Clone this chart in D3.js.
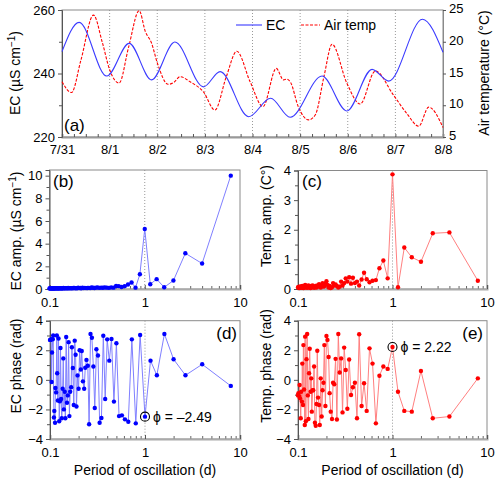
<!DOCTYPE html>
<html>
<head>
<meta charset="utf-8">
<script src="https://cdn.jsdelivr.net/npm/d3@7"></script>
<style>
  body { margin: 0; background: #fff; }
  svg { font-family: "Liberation Sans", Arial, sans-serif; }
</style>
</head>
<body>
<div id="container"></div>
<script>
// ---- data ----
const dayLabels = ["7/31", "8/1", "8/2", "8/3", "8/4", "8/5", "8/6", "8/7", "8/8"];

// EC time series (days since 7/31 00:00), read at turning points
const ecDay = [0, 0.36, 0.94, 1.41, 1.88, 2.37, 2.97, 3.32, 3.92, 4.38, 4.79, 5.46, 5.98, 6.51, 6.86, 7.57, 8.0];
const ecVal = [246.9, 256.1, 239.2, 249.5, 238.0, 249.9, 235.8, 240.6, 226.4, 232.2, 226.2, 239.2, 228.2, 241.3, 237.6, 257.1, 246.7];

// Air temperature time series
const tempDay = [0, 0.2, 0.4, 0.66, 0.85, 1.0, 1.2, 1.4, 1.62, 1.75, 1.88, 2.0, 2.23, 2.35, 2.48, 2.69, 2.97, 3.21, 3.45, 3.67, 3.95,
  4.22, 4.5, 4.65, 4.72, 4.8, 4.96, 5.18, 5.32, 5.5, 5.67, 5.98, 6.26, 6.58, 6.96, 7.24, 7.49, 7.7, 8.0];
const tempVal = [13.7, 12.0, 17.2, 24.2, 19.8, 15.6, 13.5, 19.2, 24.9, 21.6, 19.8, 16.7, 13.3, 13.6, 14.5, 13.7, 12.1, 9.25, 14.5, 18.5, 13.7,
  9.8, 15.8, 14.0, 14.1, 13.6, 9.8, 7.7, 8.5, 14.5, 19.6, 13.5, 10.2, 15.4, 11.6, 8.7, 6.7, 9.7, 6.5];

// harmonic periods (d)
const periods = [8, 4, 2.667, 2, 1.6, 1.333, 1.143, 1, 0.889, 0.8, 0.727, 0.667, 0.615, 0.571, 0.533, 0.5,
  0.471, 0.444, 0.421, 0.4, 0.381, 0.364, 0.348, 0.333, 0.32, 0.308, 0.296, 0.286, 0.276, 0.267, 0.258, 0.25,
  0.242, 0.235, 0.229, 0.222, 0.216, 0.211, 0.205, 0.2, 0.195, 0.19, 0.186, 0.182, 0.178, 0.174, 0.17, 0.167,
  0.163, 0.16, 0.157, 0.154, 0.151, 0.148, 0.145, 0.143, 0.14, 0.138, 0.136, 0.133, 0.131, 0.129, 0.127, 0.125,
  0.123, 0.121, 0.119, 0.118, 0.116, 0.114, 0.113, 0.111, 0.11, 0.108, 0.107, 0.105, 0.104, 0.103, 0.101, 0.1];

const ecAmp = [10.0, 2.25, 3.15, 0.75, 0.15, 0.87, 0.42, 5.3,
  1.3, 0.12, 0.58, 0.4, 0.25, 0.18, 0.25, 0.26,
  0.12, 0.14, 0.1, 0.12, 0.14, 0.11, 0.12, 0.1,
  0.14, 0.12, 0.09, 0.11, 0.13, 0.08, 0.1, 0.09,
  0.08, 0.1, 0.08, 0.12, 0.07, 0.09, 0.08, 0.11,
  0.07, 0.08, 0.06, 0.1, 0.09, 0.07, 0.08, 0.06,
  0.08, 0.07, 0.09, 0.06, 0.07, 0.08, 0.06, 0.07,
  0.09, 0.06, 0.07, 0.05, 0.08, 0.06, 0.07, 0.06,
  0.05, 0.07, 0.06, 0.08, 0.05, 0.06, 0.07, 0.05,
  0.06, 0.05, 0.07, 0.06, 0.05, 0.07, 0.06, 0.05];

const tempAmp = [0.28, 1.91, 1.88, 0.92, 1.07, 1.40, 0.06, 3.87,
  0.36, 0.96, 0.70, 0.30, 0.28, 0.23, 0.33, 0.55,
  0.32, 0.12, 0.25, 0.2, 0.38, 0.18, 0.4, 0.25,
  0.36, 0.2, 0.12, 0.25, 0.08, 0.05, 0.1, 0.15,
  0.12, 0.2, 0.06, 0.03, 0.1, 0.05, 0.14, 0.26,
  0.18, 0.1, 0.08, 0.2, 0.12, 0.05, 0.1, 0.16,
  0.08, 0.12, 0.05, 0.1, 0.07, 0.04, 0.08, 0.12,
  0.06, 0.1, 0.03, 0.08, 0.05, 0.12, 0.07, 0.04,
  0.1, 0.06, 0.14, 0.05, 0.08, 0.03, 0.06, 0.1,
  0.05, 0.08, 0.04, 0.09, 0.06, 0.03, 0.07, 0.05];

const ecPhase = [-0.41, 1.05, 0.31, 1.39, 3.1, 0.31, 1.30, -2.49,
  3.03, -2.94, 2.74, -2.83, -2.67, -2.4, -2.45, 2.47,
  -1.47, 2.76, 1.3, 2.74, -1.3, 2.98, -2.58, -2.9,
  1.65, 2.07, -1.9, 0.9, 2.85, 3.1, -3.0, 0.95,
  1.35, 0.82, -0.6, -0.1, 1.95, 0.7, 2.0, -0.6,
  0.3, -1.8, 1.7, 2.65, -1.7, 0.8, 2.2, -0.5,
  -0.8, -2.45, 2.55, -1.05, -1.55, 2.9, -2.6, -0.8,
  -2.0, 1.45, -0.6, -2.6, -1.3, 2.15, -1.45, -2.8,
  2.8, -1.4, 0.45, 3.0, -0.85, -0.55, -2.9, -2.1,
  -2.55, 3.0, 2.75, 1.85, -0.15, 2.75, 2.7, 2.7];

const tempPhase = [0.1, -2.48, -2.6, 0.6, -2.15, -2.1, -0.8, 2.22,
  0.74, 0.9, 0.28, -2.94, 1.1, 2.13, -2.1, -0.23,
  -1.77, 3.08, -2.6, -0.2, -0.5, -1.02, 1.38, -1.95,
  0.67, 2.18, -2.2, 1.45, 0.5, 3.1, -2.68, 1.42,
  -0.3, -0.2, -2.65, -2.15, -0.9, 1.55, 2.7, 2.97,
  -1.77, 2.35, -0.2, -0.7, -2.48, 0.1, -3.05, -1.7,
  -1.2, 1.97, -1.63, -3.1, -2.9, 0.9, -0.7, -0.7,
  -2.15, 0.1, -0.8, 2.1, 0.45, -2.65, -1.05, 3.1,
  1.4, -2.8, 2.92, -3.05, -0.65, 2.35, -1.7, 1.1,
  -1.47, -0.8, -2.6, -1.25, -0.35, -1.1, -0.9, -1.05];

// ---- drawing ----
const svg = d3.select("#container")
  .append("svg")
  .attr("width", 500)
  .attr("height", 480);

const frameColor = "#8a8a8a";
const blue = "#0000ff", blueLine = "#7f7fff";
const red = "#ff0000", redLine = "#ff8080";

function styleAxis(g, color) {
  g.select(".domain").attr("stroke", color || "#555");
  g.selectAll(".tick line").attr("stroke", "#555");
  g.selectAll(".tick text").attr("fill", "#000").style("font-size", "13px")
    .style("font-family", "'Liberation Sans', Arial, sans-serif");
}

function yTitle(x, y, parts) {
  const t = svg.append("text")
    .attr("transform", `translate(${x},${y}) rotate(-90)`)
    .attr("text-anchor", "middle")
    .style("font-size", "14px");
  parts.forEach(p => {
    const s = t.append("tspan").text(p.text);
    if (p.sup) s.attr("dy", -5).style("font-size", "10px");
    if (p.after) s.attr("dy", 5);
  });
}

// Panel (a)
const xA = d3.scaleLinear().domain([0, 8]).range([62, 443]);
const yEC = d3.scaleLinear().domain([220, 260]).range([137, 10]);
const yT = d3.scaleLinear().domain([5, 25]).range([137, 10]);

svg.append("g").selectAll("line")
  .data(d3.range(1, 8))
  .enter().append("line")
  .attr("x1", d => xA(d)).attr("x2", d => xA(d))
  .attr("y1", 10).attr("y2", 137)
  .attr("stroke", "#999").attr("stroke-dasharray", "1,2");

svg.append("rect")
  .attr("x", 62).attr("y", 10).attr("width", 381).attr("height", 127)
  .attr("fill", "none").attr("stroke", frameColor);

const gxA = svg.append("g")
  .attr("transform", "translate(0,137)")
  .call(d3.axisBottom(xA).tickValues(d3.range(0, 8.01, 0.25)).tickSize(-3).tickPadding(8)
    .tickFormat(d => Number.isInteger(d) ? dayLabels[d] : ""));
styleAxis(gxA, "#999");
gxA.select(".domain").attr("stroke-width", 2);

const gyA = svg.append("g")
  .attr("transform", "translate(62,0)")
  .call(d3.axisLeft(yEC).tickValues([220, 240, 260]).tickSize(4).tickPadding(3));
styleAxis(gyA);
svg.append("g").attr("transform", "translate(62,0)")
  .call(d3.axisLeft(yEC).tickValues([230, 250]).tickSize(3).tickFormat(""))
  .call(g => g.select(".domain").remove())
  .selectAll("line").attr("stroke", "#555");

const gyT = svg.append("g")
  .attr("transform", "translate(443,0)")
  .call(d3.axisRight(yT).tickValues([5, 10, 15, 20, 25]).tickSize(3).tickPadding(3));
styleAxis(gyT, frameColor);
gyT.selectAll(".tick text").attr("dy", "0.2em");

svg.append("path")
  .datum(tempDay.map((d, i) => [d, tempVal[i]]))
  .attr("fill", "none").attr("stroke", red).attr("stroke-width", 1.1)
  .attr("stroke-dasharray", "3,1.5")
  .attr("d", d3.line().x(d => xA(d[0])).y(d => yT(d[1])).curve(d3.curveMonotoneX));

svg.append("path")
  .datum(ecDay.map((d, i) => [d, ecVal[i]]))
  .attr("fill", "none").attr("stroke", "#3a3aff").attr("stroke-width", 1.1)
  .attr("d", d3.line().x(d => xA(d[0])).y(d => yEC(d[1])).curve(d3.curveMonotoneX));

// legend
svg.append("line").attr("x1", 236).attr("x2", 262).attr("y1", 25).attr("y2", 25)
  .attr("stroke", "#3a3aff").attr("stroke-width", 1.1);
svg.append("text").attr("x", 266).attr("y", 30).style("font-size", "14px").text("EC");
svg.append("line").attr("x1", 301).attr("x2", 320).attr("y1", 25).attr("y2", 25)
  .attr("stroke", red).attr("stroke-width", 1.1).attr("stroke-dasharray", "3,1.5");
svg.append("text").attr("x", 324).attr("y", 30).style("font-size", "14px").text("Air temp");

svg.append("text").attr("x", 64).attr("y", 131).style("font-size", "17px").text("(a)");
yTitle(20, 73, [{ text: "EC (µS cm" }, { text: "−1", sup: true }, { text: ")", after: true }]);
svg.append("text")
  .attr("transform", "translate(489,73) rotate(-90)")
  .attr("text-anchor", "middle").style("font-size", "14px")
  .text("Air temperature (°C)");

// Log panels
function logPanel(o) {
  const x = d3.scaleLog().domain([0.1, 10]).range([o.left, o.right]);
  const y = d3.scaleLinear().domain(o.yDomain).range([o.bottom, o.top]);

  svg.append("line")
    .attr("x1", x(1)).attr("x2", x(1)).attr("y1", o.top).attr("y2", o.bottom)
    .attr("stroke", "#999").attr("stroke-dasharray", "1,2");

  svg.append("rect")
    .attr("x", o.left).attr("y", o.top)
    .attr("width", o.right - o.left).attr("height", o.bottom - o.top)
    .attr("fill", "none").attr("stroke", frameColor);

  const minorX = x.ticks().filter(t => ![0.1, 1, 10].includes(+t.toPrecision(3)));
  svg.append("g").attr("transform", `translate(0,${o.bottom})`)
    .call(d3.axisBottom(x).tickValues(minorX).tickSize(-3).tickFormat(""))
    .call(g => g.select(".domain").remove())
    .selectAll("line").attr("stroke", "#666");
  const gx = svg.append("g").attr("transform", `translate(0,${o.bottom})`)
    .call(d3.axisBottom(x).tickValues([0.1, 1, 10]).tickSize(-4).tickPadding(9)
      .tickFormat(d3.format("")));
  styleAxis(gx, "#aaa");
  gx.select(".domain").attr("stroke-width", 2);

  const gy = svg.append("g").attr("transform", `translate(${o.left},0)`)
    .call(d3.axisLeft(y).tickValues(o.yMajor).tickSize(4).tickPadding(3)
      .tickFormat(d3.format("")));
  styleAxis(gy);
  svg.append("g").attr("transform", `translate(${o.left},0)`)
    .call(d3.axisLeft(y).tickValues(o.yMinor).tickSize(3).tickFormat(""))
    .call(g => g.select(".domain").remove())
    .selectAll("line").attr("stroke", "#555");

  const pts = periods.map((p, i) => [p, o.values[i]]);
  svg.append("path")
    .datum(pts)
    .attr("fill", "none").attr("stroke", o.lineColor).attr("stroke-width", 1)
    .attr("d", d3.line().x(d => x(d[0])).y(d => y(d[1])));
  svg.append("g").selectAll("circle")
    .data(pts).enter().append("circle")
    .attr("cx", d => x(d[0])).attr("cy", d => y(d[1]))
    .attr("r", 2.2).attr("fill", o.dotColor);

  svg.append("text")
    .attr("x", o.labelX).attr("y", o.labelY)
    .attr("text-anchor", o.labelAnchor || "start")
    .style("font-size", "17px").text(o.label);

  if (o.mark) {
    svg.append("circle")
      .attr("cx", x(o.mark[0])).attr("cy", y(o.mark[1])).attr("r", 4.5)
      .attr("fill", "none").attr("stroke", "#000").attr("stroke-width", 1.1);
    svg.append("text")
      .attr("x", x(o.mark[0]) + 8).attr("y", y(o.mark[1]) + 5)
      .style("font-size", "14px").text(o.markText);
  }

  if (o.xTitle) {
    svg.append("text")
      .attr("x", (o.left + o.right) / 2).attr("y", 475)
      .attr("text-anchor", "middle").style("font-size", "14px")
      .text("Period of oscillation (d)");
  }
  return { x, y };
}

logPanel({
  left: 49.5, right: 240, top: 170, bottom: 289,
  yDomain: [0, 10.5], yMajor: [0, 2, 4, 6, 8, 10], yMinor: [1, 3, 5, 7, 9],
  values: ecAmp, lineColor: blueLine, dotColor: blue,
  label: "(b)", labelX: 53, labelY: 187
});
yTitle(20.5, 231, [{ text: "EC amp. (µS cm" }, { text: "−1", sup: true }, { text: ")", after: true }]);

logPanel({
  left: 298, right: 487, top: 170.5, bottom: 289,
  yDomain: [0, 4], yMajor: [0, 1, 2, 3, 4], yMinor: [0.5, 1.5, 2.5, 3.5],
  values: tempAmp, lineColor: redLine, dotColor: red,
  label: "(c)", labelX: 302, labelY: 187
});
yTitle(270.5, 216, [{ text: "Temp. amp. (C°)" }]);

logPanel({
  left: 50, right: 240, top: 320.7, bottom: 439,
  yDomain: [-4, 4], yMajor: [-4, -2, 0, 2, 4], yMinor: [-3, -1, 1, 3],
  values: ecPhase, lineColor: blueLine, dotColor: blue,
  label: "(d)", labelX: 237, labelY: 339, labelAnchor: "end",
  mark: [1, -2.49], markText: "ϕ = –2.49", xTitle: true
});
yTitle(20.5, 366, [{ text: "EC phase (rad)" }]);

logPanel({
  left: 298, right: 487, top: 320.7, bottom: 439,
  yDomain: [-4, 4], yMajor: [-4, -2, 0, 2, 4], yMinor: [-3, -1, 1, 3],
  values: tempPhase, lineColor: redLine, dotColor: red,
  label: "(e)", labelX: 483, labelY: 339, labelAnchor: "end",
  mark: [1, 2.22], markText: "ϕ = 2.22", xTitle: true
});
yTitle(270.5, 366, [{ text: "Temp. phase (rad)" }]);
</script>
</body>
</html>
